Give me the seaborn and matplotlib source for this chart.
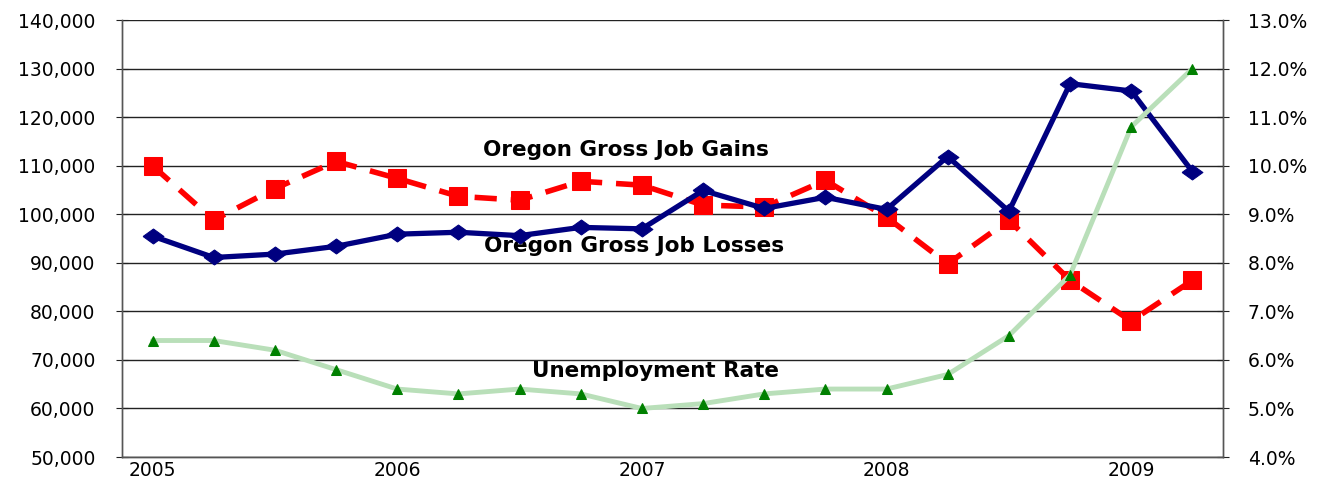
import numpy as np
import pandas as pd
import matplotlib
matplotlib.use('Agg')
import matplotlib.pyplot as plt
import seaborn as sns

# quarterly data, 2005 Q1 .. 2009 Q2
quarters = ['2005Q1', '2005Q2', '2005Q3', '2005Q4', '2006Q1', '2006Q2', '2006Q3', '2006Q4',
            '2007Q1', '2007Q2', '2007Q3', '2007Q4', '2008Q1', '2008Q2', '2008Q3', '2008Q4',
            '2009Q1', '2009Q2']
job_gains = [110000, 98800, 105300, 110900, 107400, 103700, 102900, 106800, 106000,
             101900, 101500, 107000, 99400, 89800, 98800, 86400, 78000, 86400]
job_losses = [95500, 91100, 91800, 93400, 95900, 96300, 95600, 97300, 97000,
              104900, 101200, 103500, 101000, 111900, 100600, 126900, 125400, 108800]
unemp_rate = [6.4, 6.4, 6.2, 5.8, 5.4, 5.3, 5.4, 5.3, 5.0, 5.1, 5.3, 5.4, 5.4, 5.7,
              6.5, 7.75, 10.8, 12.0]
year_labels = ['2005', '2006', '2007', '2008', '2009']

df = pd.DataFrame({'quarter': quarters, 'gains': job_gains,
                   'losses': job_losses, 'rate': unemp_rate})
df['x'] = np.arange(len(df))

sns.set_style('white')
plt.rcParams['font.family'] = ['DejaVu Sans']
plt.rcParams['text.color'] = 'black'
plt.rcParams['xtick.color'] = 'black'
plt.rcParams['ytick.color'] = 'black'

fig = plt.figure(figsize=(13.24, 4.9), dpi=100)
ax = fig.add_axes([0.0921, 0.0673, 0.8316, 0.8917])

# wide, flattened diamond like the original
wide_diamond = [(-1, 0), (0, 0.72), (1, 0), (0, -0.72), (-1, 0)]

sns.lineplot(data=df, x='x', y='gains', ax=ax, color='#FF0000', linewidth=4,
             linestyle=(0, (4, 2.5)), marker='s', markersize=13,
             markeredgecolor='#FF0000', zorder=3)
sns.lineplot(data=df, x='x', y='losses', ax=ax, color='#000080', linewidth=3.8,
             marker=wide_diamond, markersize=15, markeredgecolor='#000080', zorder=4)

ax.set_ylim(50000, 140000)
ax.set_yticks(np.arange(50000, 140001, 10000))
ax.set_yticklabels([f'{v:,}' for v in range(50000, 140001, 10000)])
ax.yaxis.grid(True, color='#222222', linewidth=1)
ax.set_axisbelow(True)

ax.set_xlim(-0.5, len(quarters) - 0.5)
ax.set_xticks(np.arange(-0.5, len(quarters), 1))
ax.set_xticklabels([])
ax.set_xticks([quarters.index(y + 'Q1') for y in year_labels], minor=True)
ax.set_xticklabels(year_labels, minor=True)
ax.tick_params(axis='x', which='major', direction='inout', length=8, color='#222222')
ax.tick_params(axis='x', which='minor', length=0, pad=3, labelsize=13.5, labelcolor='black')
ax.tick_params(axis='y', direction='inout', length=8, color='#222222', labelsize=13.5,
               pad=15, labelcolor='black')
ax.set_xlabel('')
ax.set_ylabel('')

ax2 = ax.twinx()
sns.lineplot(data=df, x='x', y='rate', ax=ax2, color='#B9DFB9', linewidth=3.5,
             marker='^', markersize=7.5, markerfacecolor='#008000',
             markeredgecolor='#008000', zorder=5)
ax2.set_ylim(4.0, 13.0)
ax2.set_yticks(np.arange(4.0, 13.01, 1.0))
ax2.set_yticklabels([f'{v:.1f}%' for v in np.arange(4.0, 13.01, 1.0)])
ax2.tick_params(axis='y', direction='inout', length=8, color='#222222', labelsize=13.5,
                pad=14, labelcolor='black')
ax2.set_ylabel('')
ax2.grid(False)

for a in (ax, ax2):
    for side in ('left', 'right', 'bottom'):
        a.spines[side].set_visible(True)
        a.spines[side].set_color('#555555')
        a.spines[side].set_linewidth(1)
    a.spines['top'].set_visible(False)

ax.text(7.74, 113200, 'Oregon Gross Job Gains', fontsize=15.5, fontweight='bold',
        color='black', ha='center', va='center')
ax.text(7.88, 93400, 'Oregon Gross Job Losses', fontsize=15.5, fontweight='bold',
        color='black', ha='center', va='center')
ax.text(8.23, 67700, 'Unemployment Rate', fontsize=15.5, fontweight='bold',
        color='black', ha='center', va='center')

fig.savefig('out.png', dpi=100)
